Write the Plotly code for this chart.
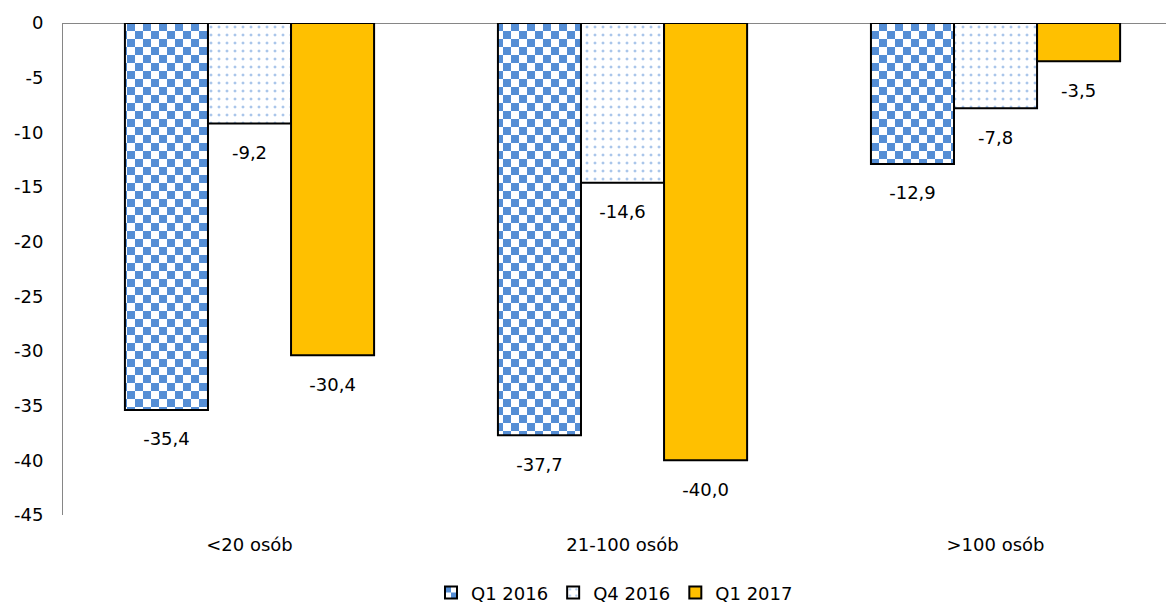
import plotly.graph_objects as go

# Change by company size (percentage balance)
categories = ["<20 osób", "21-100 osób", ">100 osób"]
series_names = ["Q1 2016", "Q4 2016", "Q1 2017"]
q1_2016 = [-35.4, -37.7, -12.9]
q4_2016 = [-9.2, -14.6, -7.8]
q1_2017 = [-30.4, -40.0, -3.5]
y_ticks = [0, -5, -10, -15, -20, -25, -30, -35, -40, -45]
y_tick_labels = ["0", "-5", "-10", "-15", "-20", "-25", "-30", "-35", "-40", "-45"]

BLUE = "#558ED5"
GOLD = "#FFC000"
FONT = "DejaVu Sans"


def pl_label(v):
    # a small spacer line pushes the value label a little further below the bar end
    return ("<span style='font-size:10px'>\u00a0</span><br>"
            + f"{v:.1f}".replace(".", ","))


fig = go.Figure()

fig.add_trace(go.Bar(
    name=series_names[0], x=categories, y=q1_2016,
    text=[pl_label(v) for v in q1_2016],
    marker=dict(color="white", line=dict(color="black", width=2),
                pattern=dict(shape="+", fgcolor=BLUE, bgcolor="white",
                             size=16, solidity=0.5)),
))
fig.add_trace(go.Bar(
    name=series_names[1], x=categories, y=q4_2016,
    text=[pl_label(v) for v in q4_2016],
    marker=dict(color="white", line=dict(color="black", width=2),
                pattern=dict(shape=".", fgcolor=BLUE, bgcolor="white",
                             size=8, solidity=0.11)),
))
fig.add_trace(go.Bar(
    name=series_names[2], x=categories, y=q1_2017,
    text=[pl_label(v) for v in q1_2017],
    marker=dict(color=GOLD, line=dict(color="black", width=2)),
))

fig.update_traces(textposition="outside", cliponaxis=False,
                  textfont=dict(family=FONT, size=18, color="black"),
                  constraintext="none")

fig.update_layout(
    width=1166, height=608,
    margin=dict(l=63, r=0, t=23, b=93),
    paper_bgcolor="white", plot_bgcolor="white",
    font=dict(family=FONT, size=18, color="black"),
    barmode="group", bargap=0.332, bargroupgap=0,
    showlegend=True,
    legend=dict(orientation="h", x=0.5, xanchor="center",
                yref="container", y=0.025, yanchor="middle",
                font=dict(family=FONT, size=18, color="black"),
                itemwidth=30),
    xaxis=dict(range=[-0.5, 2.457], showline=False, showgrid=False,
               zeroline=False, ticks="outside", ticklen=13,
               tickcolor="rgba(0,0,0,0)",
               tickfont=dict(family=FONT, size=18, color="black")),
    yaxis=dict(range=[-45, 0], tickvals=y_ticks, ticktext=y_tick_labels,
               showline=True, linecolor="#868686", linewidth=1,
               showgrid=False, zeroline=True, zerolinecolor="#868686",
               zerolinewidth=1, ticks="outside", ticklen=15,
               tickcolor="rgba(0,0,0,0)",
               tickfont=dict(family=FONT, size=18, color="black")),
)

# Checkerboard fill for the first series (bars and legend swatch)
post_js = """
var gd = document.getElementById('{plot_id}');
function applyChecker() {
  var ns = 'http://www.w3.org/2000/svg';
  var svg = gd.querySelector('svg.main-svg');
  if (!svg) return;
  var defs = svg.querySelector('defs');
  if (!defs) { defs = document.createElementNS(ns, 'defs'); svg.insertBefore(defs, svg.firstChild); }
  if (!document.getElementById('checker16')) {
    var p = document.createElementNS(ns, 'pattern');
    p.setAttribute('id', 'checker16');
    p.setAttribute('patternUnits', 'userSpaceOnUse');
    p.setAttribute('width', '16');
    p.setAttribute('height', '16');
    var cells = [[0, 0, 16, 16, '#ffffff'], [0, 0, 8, 8, '""" + BLUE + """'], [8, 8, 8, 8, '""" + BLUE + """']];
    cells.forEach(function (c) {
      var r = document.createElementNS(ns, 'rect');
      r.setAttribute('x', c[0]); r.setAttribute('y', c[1]);
      r.setAttribute('width', c[2]); r.setAttribute('height', c[3]);
      r.setAttribute('fill', c[4]);
      p.appendChild(r);
    });
    defs.appendChild(p);
  }
  var traces = gd.querySelectorAll('.barlayer .trace');
  if (traces.length) {
    traces[0].querySelectorAll('.point path').forEach(function (el) {
      el.style.fill = 'url(#checker16)';
    });
  }
  var leg = gd.querySelectorAll('.legend .traces');
  if (leg.length) {
    leg[0].querySelectorAll('.legendpoints path').forEach(function (el) {
      el.style.fill = 'url(#checker16)';
    });
  }
}
applyChecker();
gd.on('plotly_afterplot', applyChecker);
"""

fig.write_html("out.html", post_script=post_js)
